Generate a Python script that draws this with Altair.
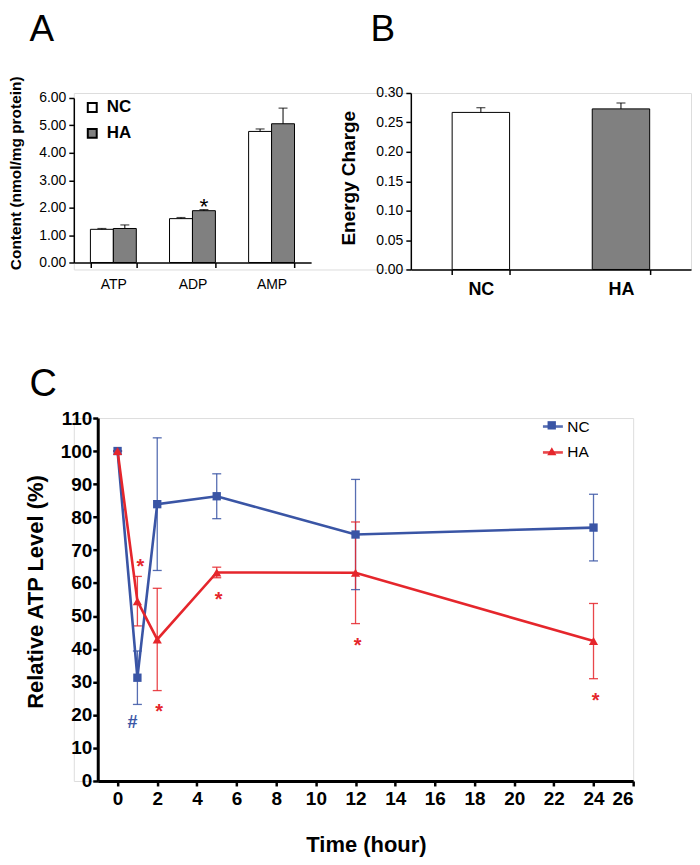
import altair as alt
import pandas as pd

FONT = "Liberation Sans"

# ---------------- Panel A data ----------------
nucleotides = ["ATP", "ADP", "AMP"]
groups = ["NC", "HA"]
a_nc_mean = [1.21, 1.60, 4.78]
a_nc_err = [0.03, 0.04, 0.09]
a_ha_mean = [1.24, 1.89, 5.06]
a_ha_err = [0.13, 0.04, 0.57]
a_nc_sig = ["", "", ""]
a_ha_sig = ["", "*", ""]
a_yticks = [0, 1, 2, 3, 4, 5, 6]

# ---------------- Panel B data ----------------
b_groups = ["NC", "HA"]
b_mean = [0.267, 0.273]
b_err = [0.008, 0.010]
b_yticks = [0, 0.05, 0.10, 0.15, 0.20, 0.25, 0.30]

# ---------------- Panel C data ----------------
series = ["NC", "HA"]
hours = [0, 1, 2, 5, 12, 24]
nc_mean = [100, 31.3, 83.9, 86.3, 74.7, 76.8]
nc_err = [0, 8.1, 20.1, 6.8, 16.7, 10.1]
ha_mean = [100, 54.5, 42.9, 63.2, 63.1, 42.4]
ha_err = [0, 7.5, 15.5, 1.6, 15.4, 11.4]
nc_mark = ["", "#", "", "", "", ""]
nc_mark_side = ["", "below", "", "", "", ""]
ha_mark = ["", "*", "*", "*", "*", "*"]
ha_mark_side = ["", "above", "below", "below", "below", "below"]
c_xticks = list(range(0, 27, 2))
c_yticks = list(range(0, 111, 10))

BLUE = "#3a55a5"
RED = "#e5262c"
GRAY = "#808080"

# layout (pixels)
AB_W, AB_H = 619, 177
A_RANGE_X = [0, 238]
A_RANGE_Y = [170, 5]
B_RANGE_X = [338, 619]
B_RANGE_Y = [177, 0]
C_W, C_H = 561, 364
C_RANGE_X = [24, 561]

# ================= Panel A =================
dfA = pd.DataFrame({
    "nuc": nucleotides * 2,
    "grp": ["NC"] * 3 + ["HA"] * 3,
    "mean": a_nc_mean + a_ha_mean,
    "err": a_nc_err + a_ha_err,
    "sig": a_nc_sig + a_ha_sig,
})
dfA["top"] = dfA["mean"] + dfA["err"]

axA_y = alt.Axis(orient="left", values=a_yticks, format=".2f", title="Content (nmol/mg protein)",
                 titleFontSize=15.5, titleFontWeight="bold", titleFont=FONT,
                 labelFont=FONT, labelFontSize=14, labelColor="black", titleColor="black",
                 tickSize=5, tickWidth=1.5, tickColor="black", domainColor="black",
                 domainWidth=1.5, labelPadding=3, grid=False, titleX=-50, titleY=80)
scA_y = alt.Scale(domain=[0, 6], range=A_RANGE_Y, nice=False)


def yA(field):
    return alt.Y(f"{field}:Q", scale=scA_y, axis=axA_y)


xA = alt.X("nuc:N", sort=nucleotides,
           scale=alt.Scale(domain=nucleotides, range=A_RANGE_X, paddingInner=0.42, paddingOuter=0.21),
           axis=alt.Axis(orient="bottom", offset=-7, title="A", titleFont=FONT, titleFontSize=37,
                         titleFontWeight="normal", titleColor="black", titleAlign="left",
                         titleBaseline="alphabetic", titleX=-45, titleY=-223, titleAngle=0,
                         labelAngle=0, tickBand="extent", labelFont=FONT,
                         labelFontSize=14, labelColor="black", tickSize=5, tickWidth=1.5,
                         tickColor="black", domainColor="black", domainWidth=1.5,
                         labelPadding=10, grid=False))
xoA = alt.XOffset("grp:N", sort=groups, scale=alt.Scale(domain=groups, paddingInner=0, paddingOuter=0))

baseA = alt.Chart(dfA)
barsA = baseA.mark_bar(stroke="black", strokeWidth=1).encode(
    x=xA, xOffset=xoA, y=yA("mean"),
    fill=alt.Fill("grp:N", sort=groups,
                  scale=alt.Scale(domain=groups, range=["white", GRAY]),
                  legend=alt.Legend(title=None, orient="none", legendX=10, legendY=6,
                                    symbolType="square", symbolSize=80,
                                    symbolStrokeColor="black", symbolStrokeWidth=2,
                                    labelFont=FONT, labelFontSize=17, labelFontWeight="bold",
                                    labelColor="black", rowPadding=8, labelOffset=6,
                                    padding=0)),
)
errA = baseA.mark_rule(color="black", strokeWidth=1).encode(
    x=xA, xOffset=xoA, y=yA("mean"), y2="top:Q")
capA = baseA.mark_tick(orient="horizontal", size=9, thickness=1.2, color="black").encode(
    x=xA, xOffset=xoA, y=yA("top"))
starA = baseA.transform_filter(alt.datum.sig != "").mark_text(
    font=FONT, fontSize=23, color="black", baseline="alphabetic", dy=4).encode(
    x=xA, xOffset=xoA, y=yA("top"), text="sig:N")

layerA = alt.layer(barsA, errA, capA, starA)

# ================= Panel B =================
dfB = pd.DataFrame({"g": b_groups, "mean": b_mean, "err": b_err})
dfB["top"] = dfB["mean"] + dfB["err"]

axB_y = alt.Axis(orient="left", offset=-B_RANGE_X[0], values=b_yticks, format=".2f",
                 title="Energy Charge",
                 titleFontSize=19, titleFontWeight="bold", titleFont=FONT,
                 labelFont=FONT, labelFontSize=14, labelColor="black", titleColor="black",
                 tickSize=5, tickWidth=1.5, tickColor="black", domainColor="black",
                 domainWidth=1.5, labelPadding=3, grid=False, titleX=-52, titleY=85)
scB_y = alt.Scale(domain=[0, 0.3], range=B_RANGE_Y, nice=False)


def yB(field):
    return alt.Y(f"{field}:Q", scale=scB_y, axis=axB_y)


xB = alt.X("g:N", sort=b_groups,
           scale=alt.Scale(domain=b_groups, range=B_RANGE_X, paddingInner=0.59, paddingOuter=0.295),
           axis=alt.Axis(orient="bottom", title="B", titleFont=FONT, titleFontSize=37,
                         titleFontWeight="normal", titleColor="black", titleAlign="left",
                         titleBaseline="alphabetic", titleX=297, titleY=-230, titleAngle=0,
                         labelAngle=0, tickBand="extent", labelFont=FONT,
                         labelFontSize=18, labelFontWeight="bold", labelColor="black",
                         tickSize=5, tickWidth=1.5, tickColor="black", domainColor="black",
                         domainWidth=1.5, labelPadding=6, grid=False))
baseB = alt.Chart(dfB)
barsB = baseB.mark_bar(stroke="black", strokeWidth=1).encode(
    x=xB, y=yB("mean"),
    fill=alt.Fill("g:N", sort=b_groups, scale=alt.Scale(domain=b_groups, range=["white", GRAY]),
                  legend=None))
errB = baseB.mark_rule(color="black", strokeWidth=1).encode(x=xB, y=yB("mean"), y2="top:Q")
capB = baseB.mark_tick(orient="horizontal", size=9, thickness=1.2, color="black").encode(
    x=xB, y=yB("top"))
layerB = alt.layer(barsB, errB, capB)

panelAB = alt.layer(layerA, layerB).resolve_scale(
    x="independent", y="independent", fill="independent", xOffset="independent"
).resolve_axis(x="independent", y="independent").properties(width=AB_W, height=AB_H)

# ================= Panel C =================
rows = []
for s, means, errs, marks, sides in [("NC", nc_mean, nc_err, nc_mark, nc_mark_side),
                                     ("HA", ha_mean, ha_err, ha_mark, ha_mark_side)]:
    for t, m, e, mk, sd in zip(hours, means, errs, marks, sides):
        rows.append({"t": t, "series": s, "v": m, "lo": m - e, "hi": m + e,
                     "mk": mk, "side": sd})
dfC = pd.DataFrame(rows)

scC_x = alt.Scale(domain=[-1, 26], range=C_RANGE_X, nice=False)
scC_y = alt.Scale(domain=[0, 110], nice=False)
axC_x = alt.Axis(orient="bottom", values=c_xticks, title="Time (hour)", titleFont=FONT,
                 titleFontSize=22, titleFontWeight="bold", titleColor="black", labelFont=FONT,
                 labelFontSize=19, labelFontWeight="bold", labelColor="black",
                 tickSize=5, tickWidth=2.5, tickColor="black", domainColor="black",
                 domainWidth=3, labelPadding=4, grid=False, titleY=54, titleX=293)
axC_top = alt.Axis(orient="top", title="C", titleFont=FONT, titleFontSize=38,
                   titleFontWeight="normal", titleColor="black", titleAlign="left",
                   titleBaseline="alphabetic", titleX=-45, titleY=-23, titleAngle=0,
                   labels=False, ticks=False, domain=False, grid=False)
axC_y = alt.Axis(orient="left", offset=-C_RANGE_X[0], values=c_yticks,
                 title="Relative ATP Level (%)", titleFont=FONT,
                 titleFontSize=22, titleFontWeight="bold", titleColor="black",
                 labelFont=FONT, labelFontSize=19, labelFontWeight="bold",
                 labelColor="black", tickSize=5, tickWidth=2.5, tickColor="black",
                 domainColor="black", domainWidth=3, labelPadding=1, grid=False,
                 titleX=-50, titleY=174)


def xC(field="t", axis=axC_x):
    return alt.X(f"{field}:Q", scale=scC_x, axis=axis)


def yC(field):
    return alt.Y(f"{field}:Q", scale=scC_y, axis=axC_y)


# legend: a line legend (from the lines) with one marker legend per series on top
LEG_X, LEG_Y = 469, -3
LINE_SYM = 400
legLine = alt.Legend(title=None, orient="none", legendX=LEG_X, legendY=LEG_Y,
                     symbolType="stroke", symbolSize=LINE_SYM, symbolStrokeWidth=2.6,
                     labelFont=FONT, labelFontSize=15.5, labelColor="black",
                     labelOffset=3, rowPadding=6, padding=0)
ROW_H = 26
SQ_SIZE, TRI_SIZE = 70, 85


def marker_legend(row, shape, size):
    r = size ** 0.5 / 2
    cx = LEG_X + LINE_SYM ** 0.5 / 2
    cy = LEG_Y + LINE_SYM ** 0.5 / 2 + row * ROW_H
    return alt.Legend(title=None, orient="none", legendX=cx - r, legendY=cy - r,
                      symbolType=shape, symbolSize=size, symbolStrokeWidth=0,
                      labelExpr="''", labelFontSize=1, labelOffset=0, padding=0)


colC = alt.Color("series:N", scale=alt.Scale(domain=series, range=[BLUE, RED]), legend=legLine)
baseC = alt.Chart(dfC)

errC = baseC.mark_rule(strokeWidth=1.3, opacity=0.85).encode(
    x=xC(), y=yC("lo"), y2="hi:Q", color=colC)
capLo = baseC.mark_tick(orient="horizontal", size=9, thickness=1.3, opacity=0.85).encode(
    x=xC(), y=yC("lo"), color=colC)
capHi = baseC.mark_tick(orient="horizontal", size=9, thickness=1.3, opacity=0.85).encode(
    x=xC(), y=yC("hi"), color=colC)
lineC = baseC.mark_line(strokeWidth=2.6).encode(
    x=xC(), y=yC("v"), color=colC, detail="series:N", order="t:Q")

ptsNC = baseC.transform_filter(alt.datum.series == series[0]).mark_point(
    filled=True, shape="square", size=SQ_SIZE, opacity=1).encode(
    x=xC(), y=yC("v"),
    fill=alt.Fill("series:N", scale=alt.Scale(domain=[series[0]], range=[BLUE]),
                  legend=marker_legend(0, "square", SQ_SIZE)))
ptsHA = baseC.transform_filter(alt.datum.series == series[1]).mark_point(
    filled=True, shape="triangle-up", size=TRI_SIZE, opacity=1).encode(
    x=xC(), y=yC("v"),
    fill=alt.Fill("series:N", scale=alt.Scale(domain=[series[1]], range=[RED]),
                  legend=marker_legend(1, "triangle-up", TRI_SIZE)))

marksC = baseC.transform_filter(alt.datum.mk != "")
starBelow = marksC.transform_filter(
    (alt.datum.side == "below") & (alt.datum.series == "HA")).mark_text(
    font=FONT, fontSize=20, fontWeight="bold", baseline="alphabetic", dy=28, dx=2).encode(
    x=xC(), y=yC("lo"), text="mk:N", color=colC)
starAbove = marksC.transform_filter(
    (alt.datum.side == "above") & (alt.datum.series == "HA")).mark_text(
    font=FONT, fontSize=20, fontWeight="bold", baseline="alphabetic", dy=-3, dx=3).encode(
    x=xC(), y=yC("hi"), text="mk:N", color=colC)
hashC = marksC.transform_filter(alt.datum.series == "NC").mark_text(
    font=FONT, fontSize=18, fontWeight="bold", baseline="alphabetic", dy=24, dx=-5).encode(
    x=xC(axis=axC_top), y=yC("lo"), text="mk:N", color=colC)

innerC = alt.layer(errC, capLo, capHi, lineC, ptsNC, ptsHA, starBelow, starAbove
                   ).resolve_scale(fill="independent").resolve_legend(fill="independent")
panelC = alt.layer(innerC, hashC).resolve_axis(x="independent").properties(
    width=C_W, height=C_H)

chart = alt.vconcat(panelAB, panelC, spacing=149, bounds="flush").resolve_scale(
    color="independent", fill="independent", stroke="independent", shape="independent"
).resolve_legend(
    color="independent", fill="independent", stroke="independent", shape="independent"
).properties(padding=0).configure_view(stroke=None).configure(font=FONT)

chart.save("out.html", embed_options={"renderer": "svg", "actions": False})
